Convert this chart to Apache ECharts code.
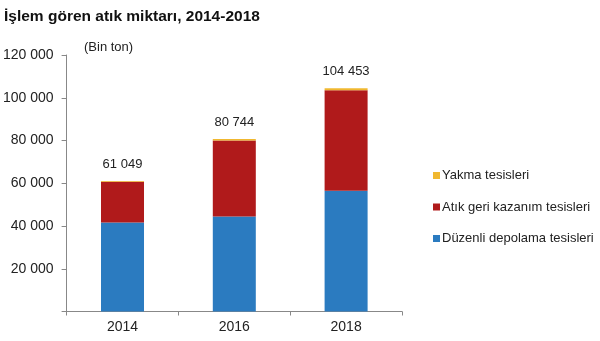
<!DOCTYPE html>
<html><head><meta charset="utf-8">
<script src="https://cdn.jsdelivr.net/npm/echarts@6/dist/echarts.min.js"></script>
<style>html,body{margin:0;padding:0;background:#fff}#c{width:600px;height:341px}</style>
</head><body><div id="c"></div>
<script>
const categories = ['2014', '2016', '2018'];
const duzenli = [41600, 44400, 56500];
const atik = [19050, 35650, 47050];
const yakma = [399, 694, 903];
const totals = [61049, 80744, 104453];
const yTicks = [0, 20000, 40000, 60000, 80000, 100000, 120000];

const fmt = v => String(v).replace(/\B(?=(\d{3})+(?!\d))/g, ' ');
const chart = echarts.init(document.getElementById('c'));
const font = 'Liberation Sans, Arial, sans-serif';
chart.setOption({
  animation: false,
  textStyle: { fontFamily: font },
  title: [
    { text: 'İşlem gören atık miktarı, 2014-2018', left: 4, top: 9, padding: 0,
      textStyle: { fontSize: 15.5, fontWeight: 'bold', color: '#111', fontFamily: font } },
    { text: '(Bin ton)', left: 84, top: 41, padding: 0,
      textStyle: { fontSize: 13, fontWeight: 'normal', color: '#222', fontFamily: font } }
  ],
  grid: { left: 66, right: 198, top: 55, bottom: 29.5, containLabel: false },
  legend: {
    orient: 'vertical', left: 428, top: 164, itemGap: 18.5, padding: 5,
    itemWidth: 7, itemHeight: 7, icon: 'rect',
    data: ['Yakma tesisleri', 'Atık geri kazanım tesisleri', 'Düzenli depolama tesisleri'],
    textStyle: { fontSize: 13, color: '#222', fontFamily: font, padding: [0, 0, 0, -3] }
  },
  xAxis: {
    type: 'category', data: categories,
    axisLine: { lineStyle: { color: '#888' } },
    axisTick: { show: true, length: 4, lineStyle: { color: '#888' } },
    axisLabel: { fontSize: 14, color: '#222', margin: 9 }
  },
  yAxis: {
    type: 'value', min: yTicks[0], max: yTicks[yTicks.length - 1], interval: 20000,
    axisLine: { show: true, lineStyle: { color: '#888' } },
    axisTick: { show: true, length: 5, lineStyle: { color: '#888' } },
    splitLine: { show: false },
    axisLabel: { fontSize: 14, color: '#222', margin: 13,
      formatter: v => v === 0 ? '' : fmt(v) }
  },
  series: [
    { name: 'Düzenli depolama tesisleri', type: 'bar', stack: 's', data: duzenli,
      barWidth: 43, itemStyle: { color: '#2B7BC0' } },
    { name: 'Atık geri kazanım tesisleri', type: 'bar', stack: 's', data: atik,
      itemStyle: { color: '#B01A1B' } },
    { name: 'Yakma tesisleri', type: 'bar', stack: 's', data: yakma,
      itemStyle: { color: '#F0B830' },
      label: { show: true, position: 'top', distance: 10, fontSize: 13, color: '#222',
        formatter: p => fmt(totals[p.dataIndex]) } }
  ]
});
</script></body></html>
